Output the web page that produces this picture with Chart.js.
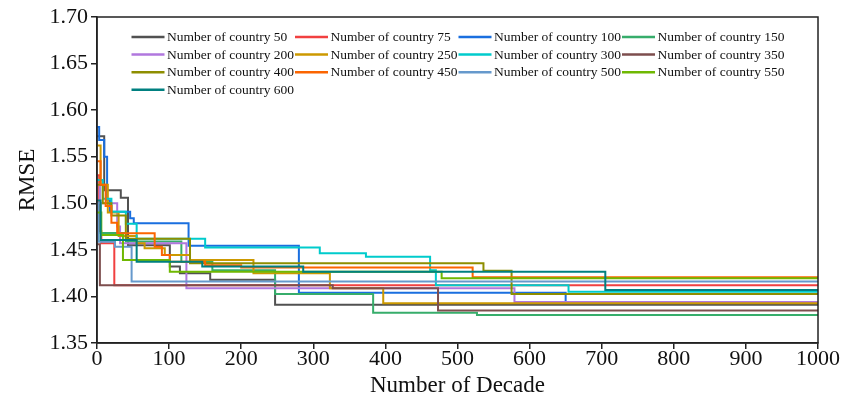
<!DOCTYPE html>
<html>
<head>
<meta charset="utf-8">
<script src="https://cdn.jsdelivr.net/npm/chart.js@4/dist/chart.umd.min.js"></script>
<style>
  html, body { margin: 0; padding: 0; background: #fff; }
  #wrap { width: 856px; height: 400px; position: relative; }
</style>
</head>
<body>
<div id="wrap"><canvas id="chart-rmse"></canvas></div>
<script>
// step points: [decade, rmse], value holds until the next point
const country50 = [[0, 1.572], [10, 1.514], [33, 1.506], [43, 1.455], [101, 1.432], [115, 1.425], [157, 1.418], [247, 1.391], [1000, 1.391]];
const country75 = [[0, 1.53], [3, 1.47], [6, 1.457], [24, 1.412], [1000, 1.412]];
const country100 = [[0, 1.582], [3, 1.568], [10, 1.55], [14, 1.503], [18, 1.491], [46, 1.484], [51, 1.4785], [127, 1.4545], [280, 1.404], [650, 1.394], [1000, 1.394]];
const country150 = [[0, 1.50], [5, 1.468], [40, 1.459], [117, 1.437], [160, 1.428], [247, 1.4025], [383, 1.3826], [527, 1.380], [1000, 1.380]];
const country200 = [[0, 1.52], [4, 1.50], [28, 1.475], [32, 1.457], [124, 1.4087], [579, 1.394], [1000, 1.394]];
const country250 = [[0, 1.562], [5, 1.52], [15, 1.49], [30, 1.465], [55, 1.457], [66, 1.4516], [94, 1.4445], [129, 1.439], [217, 1.4248], [323, 1.4087], [397, 1.3926], [1000, 1.3926]];
const country300 = [[0, 1.525], [8, 1.505], [20, 1.491], [40, 1.478], [55, 1.462], [150, 1.4525], [309, 1.4463], [373, 1.4427], [462, 1.428], [470, 1.412], [654, 1.405], [1000, 1.405]];
const country350 = [[0, 1.456], [4, 1.412], [327, 1.4087], [473, 1.385], [1000, 1.385]];
const country400 = [[0, 1.52], [8, 1.50], [20, 1.487], [40, 1.462], [129, 1.4356], [536, 1.4275], [575, 1.4026], [1000, 1.4026]];
const country450 = [[0, 1.545], [5, 1.52], [12, 1.497], [20, 1.479], [28, 1.4677], [80, 1.4534], [90, 1.4445], [101, 1.4373], [150, 1.4335], [200, 1.431], [521, 1.4205], [1000, 1.4205]];
const country500 = [[0, 1.50], [2, 1.4588], [25, 1.4534], [48, 1.416], [1000, 1.416]];
const country550 = [[0, 1.49], [6, 1.466], [36, 1.439], [101, 1.4266], [478, 1.4194], [1000, 1.4194]];
const country600 = [[0, 1.503], [5, 1.4606], [55, 1.4373], [146, 1.432], [286, 1.4266], [705, 1.4069], [1000, 1.4069]];

const seriesLabels = ["Number of country 50", "Number of country 75", "Number of country 100", "Number of country 150",
  "Number of country 200", "Number of country 250", "Number of country 300", "Number of country 350",
  "Number of country 400", "Number of country 450", "Number of country 500", "Number of country 550",
  "Number of country 600"];
const seriesData = [country50, country75, country100, country150, country200, country250, country300,
  country350, country400, country450, country500, country550, country600];

const xTicks = [0, 100, 200, 300, 400, 500, 600, 700, 800, 900, 1000];
const yTicks = [1.35, 1.40, 1.45, 1.50, 1.55, 1.60, 1.65, 1.70];

const colors = ["#515151", "#F14040", "#1A6FDF", "#37AD6B", "#B177DE", "#CC9900", "#00CBCC",
  "#7D4E4E", "#8E8E00", "#FB6501", "#6699CC", "#6FB802", "#008080"];
const serif = "'Liberation Serif', 'Times New Roman', serif";

// legend drawn inside the plot as a 4-column grid
const gridLegend = {
  id: "gridLegend",
  afterDraw(chart) {
    const ctx = chart.ctx;
    const area = chart.chartArea;
    ctx.save();
    // frame on all four sides
    ctx.strokeStyle = "#222";
    ctx.lineWidth = 1.5;
    ctx.strokeRect(area.left, area.top, area.right - area.left, area.bottom - area.top);

    ctx.font = "13.5px " + serif;
    ctx.textBaseline = "middle";
    ctx.fillStyle = "#111";
    chart.data.datasets.forEach((ds, i) => {
      const col = i % 4;
      const row = Math.floor(i / 4);
      const x = area.left + 34.5 + col * 163.5;
      const y = area.top + 20 + row * 17.6;
      ctx.strokeStyle = ds.borderColor;
      ctx.lineWidth = 2.5;
      ctx.beginPath();
      ctx.moveTo(x, y);
      ctx.lineTo(x + 33, y);
      ctx.stroke();
      ctx.fillText(ds.label, x + 35.5, y + 0.5);
    });
    ctx.restore();
  }
};

function run() {
  if (typeof Chart === "undefined") return;
  const el = document.getElementById("chart-rmse");

  new Chart(el, {
    type: "line",
    data: {
      datasets: seriesData.map((pts, i) => ({
        label: seriesLabels[i],
        data: pts.map(p => ({ x: p[0], y: p[1] })),
        borderColor: colors[i],
        backgroundColor: colors[i],
        borderWidth: 2,
        pointRadius: 0,
        stepped: "before",
        fill: false,
        order: seriesData.length - i,
      })),
    },
    options: {
      responsive: true,
      maintainAspectRatio: false,
      animation: false,
      layout: { padding: { top: 17, right: 38, bottom: 0, left: 0 } },
      plugins: {
        legend: { display: false },
        tooltip: { enabled: false },
      },
      scales: {
        x: {
          type: "linear",
          min: 0,
          max: 1000,
          afterFit: (s) => { s.height = 57; },
          afterBuildTicks: (s) => { s.ticks = xTicks.map(v => ({ value: v })); },
          grid: { drawOnChartArea: false, drawTicks: true, tickLength: 6, color: "#222", lineWidth: 1.5 },
          border: { display: true, color: "#222", width: 1.5 },
          ticks: { color: "#111", padding: -3, maxRotation: 0, callback: (v) => String(v), font: { family: serif, size: 22 } },
          title: { display: true, text: "Number of Decade", color: "#111", padding: { top: 0, bottom: 0 }, font: { family: serif, size: 23 } },
        },
        y: {
          type: "linear",
          min: 1.35,
          max: 1.70,
          afterFit: (s) => { s.width = 97; },
          afterBuildTicks: (s) => { s.ticks = yTicks.map(v => ({ value: v })); },
          grid: { drawOnChartArea: false, drawTicks: true, tickLength: 6, color: "#222", lineWidth: 1.5 },
          border: { display: true, color: "#222", width: 1.5 },
          ticks: { color: "#111", padding: 3, callback: (v) => v.toFixed(2), font: { family: serif, size: 22 } },
          title: { display: true, text: "RMSE", color: "#111", padding: { top: 14, bottom: 0 }, font: { family: serif, size: 23 } },
        },
      },
    },
    plugins: [gridLegend],
  });
}

if (document.readyState === "loading") {
  document.addEventListener("DOMContentLoaded", run);
} else {
  run();
}
</script>
</body>
</html>
